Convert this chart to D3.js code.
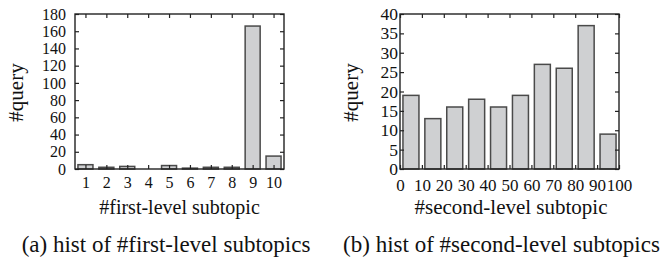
<!DOCTYPE html>
<html>
<head>
<meta charset="utf-8">
<script src="https://cdn.jsdelivr.net/npm/d3@7/dist/d3.min.js"></script>
<style>
  html, body { margin: 0; padding: 0; background: #fff; }
  svg text { font-family: "Liberation Serif", "Times New Roman", serif; fill: #111; }
</style>
</head>
<body>
<svg id="chart" width="664" height="261"></svg>
<script>
// ---- data ----
const firstCategories = [1, 2, 3, 4, 5, 6, 7, 8, 9, 10];
const firstCounts = [5, 2, 3, 0, 4, 1, 2, 2, 166, 15];
const firstYTicks = [0, 20, 40, 60, 80, 100, 120, 140, 160, 180];

const secondBinStarts = [0, 10, 20, 30, 40, 50, 60, 70, 80, 90];
const secondCounts = [19, 13, 16, 18, 16, 19, 27, 26, 37, 9];
const secondXTicks = [0, 10, 20, 30, 40, 50, 60, 70, 80, 90, 100];
const secondYTicks = [0, 5, 10, 15, 20, 25, 30, 35, 40];

const yLabel = "#query";
const firstXLabel = "#first-level subtopic";
const secondXLabel = "#second-level subtopic";
const firstCaption = "(a) hist of #first-level subtopics";
const secondCaption = "(b) hist of #second-level subtopics";

// ---- drawing ----
const svg = d3.select("#chart");
const plotTop = 14, plotBottom = 169;
const barFill = "#cfd0d2", barStroke = "#4a4a4a";

function panel(opts) {
  const g = svg.append("g");
  const x = d3.scaleLinear().domain(opts.xDomain).range(opts.xRange);
  const y = d3.scaleLinear().domain(opts.yDomain).range([plotBottom, plotTop]);

  // bars
  g.selectAll("rect.bar").data(opts.bars).enter().append("rect")
    .attr("class", "bar")
    .attr("x", d => x(d.c) - opts.barW / 2)
    .attr("width", opts.barW)
    .attr("y", d => y(d.v))
    .attr("height", d => y(0) - y(d.v))
    .attr("fill", barFill)
    .attr("stroke", barStroke)
    .attr("stroke-width", 1.5);

  // axes (inside ticks)
  const bx = g.append("g").attr("transform", `translate(0,${plotBottom})`)
    .call(d3.axisBottom(x).tickValues(opts.xTicks).tickSizeInner(-4).tickSizeOuter(0).tickPadding(opts.xPad));
  const tx = g.append("g").attr("transform", `translate(0,${plotTop})`)
    .call(d3.axisTop(x).tickValues(opts.xTicks).tickSizeInner(-4).tickSizeOuter(0).tickFormat(""));
  const ly = g.append("g").attr("transform", `translate(${opts.xRange[0]},0)`)
    .call(d3.axisLeft(y).tickValues(opts.yTicks).tickSizeInner(-4).tickSizeOuter(0).tickPadding(opts.yPad));
  const ry = g.append("g").attr("transform", `translate(${opts.xRange[1]},0)`)
    .call(d3.axisRight(y).tickValues(opts.yTicks).tickSizeInner(-4).tickSizeOuter(0).tickFormat(""));
  [bx, tx, ly, ry].forEach(a => {
    a.select(".domain").remove();
    a.selectAll("line").attr("stroke", "#222").attr("stroke-width", 1.2);
    a.selectAll("text").attr("font-family", "Liberation Serif").attr("fill", "#111");
  });
  bx.selectAll("text").attr("font-size", opts.xFont);
  ly.selectAll("text").attr("font-size", opts.yFont);

  // frame
  g.append("rect")
    .attr("x", opts.xRange[0]).attr("y", plotTop)
    .attr("width", opts.xRange[1] - opts.xRange[0]).attr("height", plotBottom - plotTop)
    .attr("fill", "none").attr("stroke", "#222").attr("stroke-width", 1.4);

  // y label
  g.append("text")
    .attr("transform", `translate(${opts.yLabelX},${(plotTop + plotBottom) / 2 + 1}) rotate(-90)`)
    .attr("text-anchor", "middle")
    .attr("font-size", 21)
    .text(yLabel);

  // x title
  g.append("text")
    .attr("x", (opts.xRange[0] + opts.xRange[1]) / 2 + opts.titleDx)
    .attr("y", 214)
    .attr("text-anchor", "middle")
    .attr("font-size", opts.titleFont)
    .text(opts.xLabel);

  // caption
  g.append("text")
    .attr("x", opts.capX)
    .attr("y", 252)
    .attr("text-anchor", "middle")
    .attr("font-size", 23)
    .text(opts.caption);
}

panel({
  xDomain: [0.5, 10.5], xRange: [75, 284],
  yDomain: [0, 180],
  xTicks: firstCategories, yTicks: firstYTicks,
  bars: firstCategories.map((c, i) => ({ c: c, v: firstCounts[i] })),
  barW: 15, xPad: 8, yPad: 9, xFont: 16, yFont: 16,
  yLabelX: 23, xLabel: firstXLabel, titleFont: 20, titleDx: 0,
  caption: firstCaption, capX: 166
});

panel({
  xDomain: [0, 100], xRange: [400, 619],
  yDomain: [0, 40],
  xTicks: secondXTicks, yTicks: secondYTicks,
  bars: secondBinStarts.map((s, i) => ({ c: s + 5, v: secondCounts[i] })),
  barW: 16, xPad: 9.5, yPad: 2, xFont: 17, yFont: 17.5,
  yLabelX: 358, xLabel: secondXLabel, titleFont: 21, titleDx: 1.5,
  caption: secondCaption, capX: 501.5
});
</script>
</body>
</html>
